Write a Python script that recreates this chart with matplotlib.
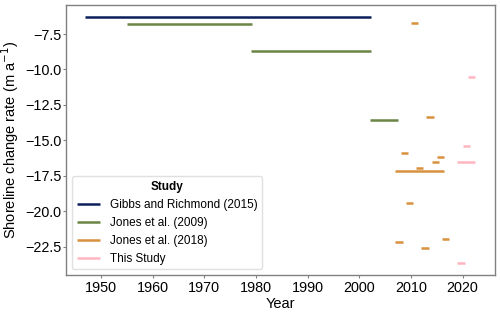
import matplotlib
matplotlib.use("Agg")
import matplotlib.pyplot as plt

plt.rcParams['font.family'] = ['Liberation Sans', 'DejaVu Sans']

studies = ["Gibbs and Richmond (2015)", "Jones et al. (2009)", "Jones et al. (2018)", "This Study"]
colors = {"Gibbs and Richmond (2015)": "#0b1f5c",
          "Jones et al. (2009)": "#6b8544",
          "Jones et al. (2018)": "#d8913d",
          "This Study": "#ffb6c1"}

# segments: (study, start year, end year, rate)
seg_study = ["Gibbs and Richmond (2015)",
             "Jones et al. (2009)", "Jones et al. (2009)", "Jones et al. (2009)",
             "Jones et al. (2018)", "Jones et al. (2018)", "Jones et al. (2018)",
             "Jones et al. (2018)", "Jones et al. (2018)", "Jones et al. (2018)",
             "Jones et al. (2018)", "Jones et al. (2018)", "Jones et al. (2018)",
             "Jones et al. (2018)", "Jones et al. (2018)",
             "This Study", "This Study", "This Study", "This Study"]
seg_start = [1947.0,
             1955.0, 1979.0, 2002.0,
             2010.0, 2013.0, 2008.0, 2015.0, 2014.0, 2011.0, 2007.0, 2009.0, 2007.0, 2012.0, 2016.0,
             2021.0, 2020.0, 2019.0, 2019.0]
seg_end = [2002.2,
           1979.2, 2002.2, 2007.4,
           2011.4, 2014.4, 2009.4, 2016.4, 2015.4, 2012.4, 2016.4, 2010.4, 2008.4, 2013.4, 2017.4,
           2022.4, 2021.4, 2022.4, 2020.4]
seg_rate = [-6.32,
            -6.82, -8.72, -13.59,
            -6.75, -13.37, -15.87, -16.17, -16.48, -16.97, -17.16, -19.37, -22.15, -22.54, -21.96,
            -10.53, -15.38, -16.48, -23.63]

fig = plt.figure(figsize=(5.0, 3.12), dpi=100)
ax = fig.add_axes([0.132, 0.1176, 0.857, 0.8665])

labeled = set()
for s, x0, x1, r in zip(seg_study, seg_start, seg_end, seg_rate):
    lab = s if s not in labeled else None
    labeled.add(s)
    ax.plot([x0, x1], [r, r], color=colors[s], lw=1.8, solid_capstyle='butt', label=lab)

ax.set_xlabel("Year", fontsize=10.5, labelpad=1)
ax.set_ylabel("Shoreline change rate (m a$^{-1}$)", fontsize=10.5, labelpad=3)
ax.tick_params(labelsize=10.4, color="#808080", length=2.5, width=0.8)
ax.tick_params(axis="y", pad=0.6)
ax.tick_params(axis="x", pad=1.8)
for sp in ax.spines.values():
    sp.set_color("#808080")
    sp.set_linewidth(1.0)
ax.set_xticks([1950, 1960, 1970, 1980, 1990, 2000, 2010, 2020])
ax.set_yticks([-22.5, -20.0, -17.5, -15.0, -12.5, -10.0, -7.5])

handles, labels = ax.get_legend_handles_labels()
order = [labels.index(s) for s in studies]
leg = ax.legend([handles[i] for i in order], [labels[i] for i in order],
                title="Study", loc="lower left", fontsize=8.5, title_fontsize=8.5,
                borderaxespad=0.5, framealpha=1.0, edgecolor="#e0e0e0", fancybox=True,
                handlelength=2.0)
leg.get_title().set_fontweight("bold")

fig.savefig("out.png", dpi=100)
